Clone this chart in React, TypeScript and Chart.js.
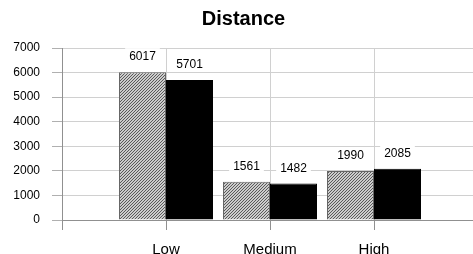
import React, { useEffect, useRef } from 'react';
import { Chart, registerables } from 'chart.js';

Chart.register(...registerables);

const chartTitle = 'Distance';
const categories = ['', 'Low', 'Medium', 'High', ''];
const seriesA = [null, 6017, 1561, 1990, null];
const seriesB = [null, 5701, 1482, 2085, null];
const yMin = 0;
const yMax = 7000;
const yStep = 1000;

const FONT = '"Liberation Sans", Arial, Helvetica, sans-serif';

function makeHatch(): CanvasPattern | string {
  const c = document.createElement('canvas');
  c.width = 3;
  c.height = 3;
  const g = c.getContext('2d');
  if (!g) return '#aaaaaa';
  for (let y = 0; y < 3; y++) {
    for (let x = 0; x < 3; x++) {
      g.fillStyle = (x + y) % 3 === 2 ? '#5a5a5a' : '#cccccc';
      g.fillRect(x, y, 1, 1);
    }
  }
  const p = g.createPattern(c, 'repeat');
  return p || '#aaaaaa';
}

const labelPlugin = {
  id: 'valueLabels',
  afterDatasetsDraw(chart: any) {
    const ctx = chart.ctx;
    ctx.save();
    ctx.font = `12px ${FONT}`;
    ctx.textAlign = 'center';
    ctx.textBaseline = 'middle';
    chart.data.datasets.forEach((ds: any, di: number) => {
      const meta = chart.getDatasetMeta(di);
      meta.data.forEach((bar: any, i: number) => {
        const v = ds.data[i];
        if (v === null || v === undefined) return;
        const txt = String(v);
        const x = bar.x;
        const y = bar.y - 16;
        const w = ctx.measureText(txt).width;
        ctx.fillStyle = '#ffffff';
        ctx.fillRect(x - w / 2 - 4, y - 8, w + 8, 16);
        ctx.fillStyle = '#000000';
        ctx.fillText(txt, x, y + 1);
      });
    });
    ctx.font = `bold 20px ${FONT}`;
    ctx.fillStyle = '#000000';
    ctx.fillText(chartTitle, 243.5, 19);
    ctx.restore();
  },
};

export default function App() {
  const ref = useRef<HTMLCanvasElement | null>(null);

  useEffect(() => {
    if (!ref.current) return;
    const hatch = makeHatch();
    const chart = new Chart(ref.current, {
      type: 'bar',
      data: {
        labels: categories,
        datasets: [
          {
            label: 'A',
            data: seriesA as any,
            backgroundColor: hatch as any,
            borderColor: '#666666',
            borderWidth: 1,
          },
          {
            label: 'B',
            data: seriesB as any,
            backgroundColor: '#000000',
            borderColor: '#000000',
            borderWidth: 1,
          },
        ],
      },
      options: {
        responsive: false,
        animation: false,
        layout: { padding: { top: 48, left: 0, right: 0, bottom: 0 } },
        plugins: {
          legend: { display: false },
          title: { display: false },
          tooltip: { enabled: false },
        },
        datasets: {
          bar: { categoryPercentage: 0.904, barPercentage: 1 },
        },
        scales: {
          x: {
            offset: false,
            grid: {
              offset: false,
              color: '#d0d0d0',
              tickColor: '#909090',
              tickLength: 10,
              drawTicks: true,
            },
            border: { color: '#909090' },
            ticks: {
              color: '#000000',
              font: { family: FONT, size: 15 },
              padding: 11,
              maxRotation: 0,
              autoSkip: false,
            },
            afterFit: (s: any) => {
              s.height = 34;
            },
          },
          y: {
            min: yMin,
            max: yMax,
            grid: {
              color: '#d0d0d0',
              tickColor: '#b0b0b0',
              tickLength: 10,
            },
            border: { color: '#909090' },
            ticks: {
              stepSize: yStep,
              color: '#000000',
              font: { family: FONT, size: 12 },
              padding: 12,
              callback: (v: any) => String(v),
            },
            afterFit: (s: any) => {
              s.width = 62;
            },
          },
        },
      },
      plugins: [labelPlugin],
    });
    return () => chart.destroy();
  }, []);

  return (
    <div
      style={{
        position: 'fixed',
        left: 0,
        top: 0,
        width: 473,
        height: 254,
        overflow: 'hidden',
        background: '#ffffff',
      }}
    >
      <canvas ref={ref} width={489} height={254} style={{ display: 'block' }} />
    </div>
  );
}
